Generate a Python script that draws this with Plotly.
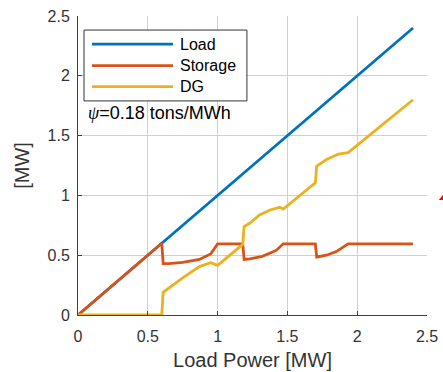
import plotly.graph_objects as go

# Data
load_x = [0, 2.4]
load_y = [0, 2.4]

storage_x = [0, 0.6, 0.61, 0.65, 0.75, 0.87, 0.95, 1.0, 1.18, 1.19, 1.23, 1.32, 1.42, 1.47, 1.70, 1.71, 1.78, 1.85, 1.935, 2.4]
storage_y = [0, 0.6, 0.43, 0.43, 0.44, 0.465, 0.51, 0.595, 0.595, 0.465, 0.47, 0.49, 0.54, 0.595, 0.595, 0.485, 0.50, 0.53, 0.595, 0.595]

dg_x = [0, 0.6, 0.61, 0.66, 0.755, 0.87, 0.95, 1.0, 1.18, 1.19, 1.23, 1.30, 1.375, 1.445, 1.47, 1.70, 1.71, 1.78, 1.865, 1.935, 2.4]
dg_y = [0, 0, 0.19, 0.235, 0.315, 0.405, 0.437, 0.415, 0.59, 0.74, 0.767, 0.836, 0.878, 0.90, 0.886, 1.105, 1.245, 1.30, 1.346, 1.357, 1.80]

series_names = ["Load", "Storage", "DG"]
series_colors = ["#0072BD", "#D95319", "#EDB120"]

tick_vals = [0, 0.5, 1, 1.5, 2, 2.5]
tick_text = ["0", "0.5", "1", "1.5", "2", "2.5"]

FONT = "Liberation Sans, Arial, Helvetica, sans-serif"
TXT = "#333333"
GRID = "#d0d0d0"

fig = go.Figure()
for xs, ys, nm, col in zip([load_x, storage_x, dg_x], [load_y, storage_y, dg_y],
                           series_names, series_colors):
    fig.add_trace(go.Scatter(x=xs, y=ys, mode="lines", name=nm,
                             line=dict(color=col, width=2.8), showlegend=False))

axis_common = dict(
    range=[0, 2.5], tickvals=tick_vals, ticktext=tick_text,
    showgrid=True, gridcolor=GRID, gridwidth=1,
    showline=True, linecolor="#404040", linewidth=1, mirror=False,
    ticks="inside", ticklen=4, tickcolor="#404040",
    tickfont=dict(family=FONT, size=16, color=TXT),
    zeroline=False, automargin=False,
)

fig.update_layout(
    width=443, height=372,
    margin=dict(l=78, r=16, t=16, b=57),
    paper_bgcolor="white", plot_bgcolor="white",
    font=dict(family=FONT, color=TXT),
    xaxis=dict(**axis_common, ticklabelstandoff=7,
               title=dict(text="Load Power [MW]", font=dict(family=FONT, size=20, color=TXT), standoff=8)),
    yaxis=dict(**axis_common, ticklabelstandoff=4,
               title=dict(text="[MW]", font=dict(family=FONT, size=20, color=TXT), standoff=12)),
    showlegend=False,
)

# Legend box (MATLAB style), drawn in paper coordinates
fig.add_shape(type="rect", xref="paper", yref="paper",
              x0=0.0172, x1=0.484, y0=0.716, y1=0.953,
              fillcolor="white", line=dict(color="#333333", width=1), layer="above")
leg_y = [0.906, 0.834, 0.764]
for nm, col, yy in zip(series_names, series_colors, leg_y):
    fig.add_shape(type="line", xref="paper", yref="paper",
                  x0=0.0401, x1=0.2722, y0=yy, y1=yy,
                  line=dict(color=col, width=2.8), layer="above")
    fig.add_annotation(x=0.287, y=yy, xref="paper", yref="paper",
                       xanchor="left", yanchor="middle", text=nm, showarrow=False,
                       font=dict(family=FONT, size=16, color="#000000"))

fig.add_annotation(
    x=0.022, y=0.676, xref="paper", yref="paper", xanchor="left", yanchor="middle",
    text="<span style='font-family:Liberation Serif, DejaVu Serif, serif; font-style:italic'>ψ</span>=0.18 tons/MWh",
    showarrow=False, font=dict(family=FONT, size=18, color="#000000"),
)

# small red mark at right edge
fig.add_shape(type="path", xref="paper", yref="paper",
              path="M 1.034 0.385 L 1.046 0.385 L 1.046 0.402 Z",
              fillcolor="red", line=dict(color="red", width=0))

fig.write_html("out.html")
